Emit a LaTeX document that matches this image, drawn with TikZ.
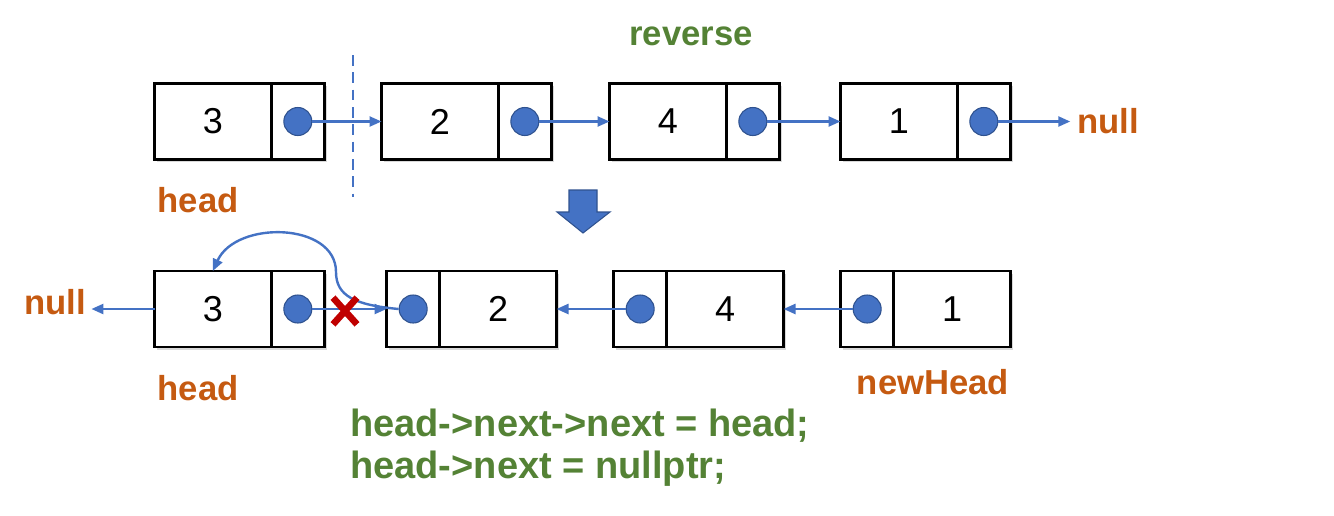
\documentclass[tikz,border=0pt]{standalone}
\usepackage{fontspec}
\setmainfont{Liberation Sans}
\usetikzlibrary{arrows.meta,shapes.misc,shadows}
\definecolor{linkblue}{RGB}{68,114,196}
\definecolor{dotedge}{RGB}{47,82,143}
\definecolor{lblorange}{RGB}{197,90,17}
\definecolor{codegreen}{RGB}{84,130,53}
\definecolor{cutred}{RGB}{192,0,0}
\tikzset{
  valcell/.style={draw=black, line width=2.2pt, fill=white, minimum width=87.5pt, minimum height=57pt, inner sep=0pt, outer sep=0pt,
    font=\fontsize{27}{30}\selectfont, drop shadow={opacity=0.3, shadow xshift=2pt, shadow yshift=-2pt}},
  ptrcell/.style={valcell, minimum width=40pt},
  dot/.style={circle, fill=linkblue, draw=dotedge, line width=0.8pt, minimum size=21pt, inner sep=0pt},
  link/.style={draw=linkblue, line width=1.8pt, -{Triangle[length=9pt,width=7.5pt]}},
  lbl/.style={text=lblorange, font=\bfseries\fontsize{26}{30}\selectfont, inner sep=0pt},
  codeline/.style={text=codegreen, font=\bfseries\fontsize{28.5}{32}\selectfont, inner sep=0pt, anchor=west},
}
\begin{document}
\begin{tikzpicture}[x=0.75pt,y=0.75pt,yscale=-1,xscale=1]
\useasboundingbox (0,0) rectangle (1334,515);

% top row: 3 -> 2 -> 4 -> 1 -> null
\node[valcell, anchor=west] (t3v) at (154.5,121.5) {3};
\node[ptrcell, anchor=west] (t3p) at (t3v.east) {};
\node[valcell, anchor=west] (t2v) at (381.5,121.5) {2};
\node[ptrcell, anchor=west] (t2p) at (t2v.east) {};
\node[valcell, anchor=west] (t4v) at (609.5,121.5) {4};
\node[ptrcell, anchor=west] (t4p) at (t4v.east) {};
\node[valcell, anchor=west] (t1v) at (840.5,121.5) {1};
\node[ptrcell, anchor=west] (t1p) at (t1v.east) {};
\node[dot] (t3c) at (t3p.center) {};
\node[dot] (t2c) at (t2p.center) {};
\node[dot] (t4c) at (t4p.center) {};
\node[dot] (t1c) at (t1p.center) {};

% Text Node
\node[lbl, inner sep=5pt] (nullR) at (1108,121) {null};
\node[lbl] (headT) at (198,200) {head};
\node[lbl, text=codegreen] (rev) at (691,36) {reverse};

%Straight Lines
\draw[link] (t3c.east) -- (t2v.west);
\draw[link] (t2c.east) -- (t4v.west);
\draw[link] (t4c.east) -- (t1v.west);
\draw[link] (t1c.east) -- (nullR.west |- t1c.east);
\draw[linkblue, line width=2pt, dash pattern={on 8pt off 5pt}] (353,55) -- (353,197);

%Shape: down arrow
\draw[fill=linkblue, draw=dotedge, line width=0.8pt] (569,190) -- (597,190) -- (597,212) -- (610,212) -- (583,233) -- (557,212) -- (569,212) -- cycle;

% bottom row: null <- 3 <- 2 <- 4 <- 1
\node[valcell, anchor=west] (b3v) at (154.5,309) {3};
\node[ptrcell, anchor=west] (b3p) at (b3v.east) {};
\node[ptrcell, anchor=west] (b2p) at (386.5,309) {};
\node[valcell, anchor=west] (b2v) at (b2p.east) {2};
\node[ptrcell, anchor=west] (b4p) at (613.5,309) {};
\node[valcell, anchor=west] (b4v) at (b4p.east) {4};
\node[ptrcell, anchor=west] (b1p) at (840.5,309) {};
\node[valcell, anchor=west] (b1v) at (b1p.east) {1};
\node[dot] (b3c) at (b3p.center) {};
\node[dot] (b2c) at (b2p.center) {};
\node[dot] (b4c) at (b4p.center) {};
\node[dot] (b1c) at (b1p.center) {};

% Text Node
\node[lbl, inner sep=4pt] (nullL) at (55,302) {null};
\node[lbl] (headB) at (198,388) {head};
\node[lbl] (newHead) at (933,382) {newHead};
\node[codeline] (code1) at (350,426) {head->next->next = head;};
\node[codeline] (code2) at (350,469) {head->next = nullptr;};

%Straight Lines
\draw[link] (b3v.west) -- (nullL.east |- b3v.west);
\draw[link] (b3c.east) -- (b2p.west);
\draw[link] (b4c.west) -- (b2v.east);
\draw[link] (b1c.west) -- (b4v.east);
%Curve: 2 back to 3
\draw[link] (b2c.west) .. controls (355,305) and (336,296) .. (336,272) .. controls (336,222) and (236,220) .. (b3v.north);
% cut mark
\node[cross out, draw=cutred, line width=5pt, minimum width=13pt, minimum height=15pt, inner sep=0pt] (cut) at (345,311) {};
\end{tikzpicture}
\end{document}
